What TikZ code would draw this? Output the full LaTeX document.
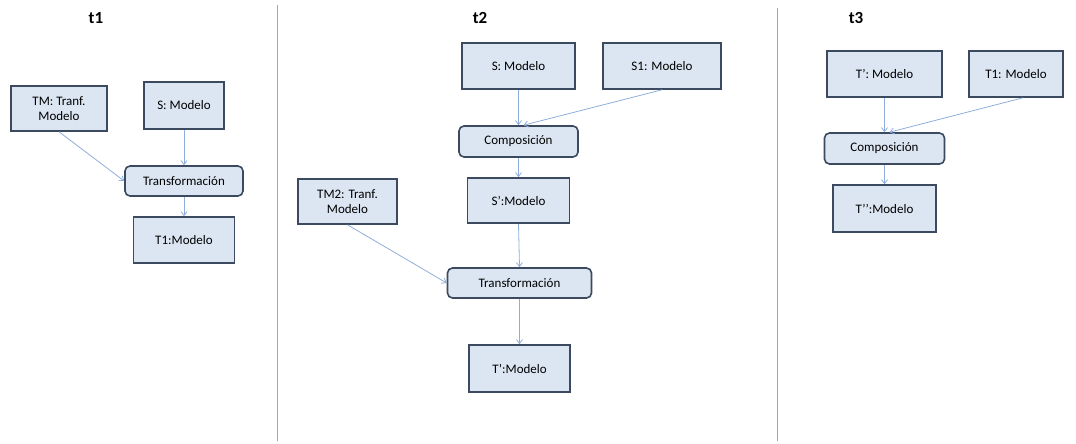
\documentclass[tikz,border=0pt]{standalone}
\usepackage{fontspec}
\setmainfont{Carlito}
\usetikzlibrary{arrows.meta}
\definecolor{boxfill}{HTML}{DCE6F2}
\definecolor{boxline}{HTML}{3B4A5E}
\definecolor{arrowcol}{HTML}{8EAEDB}
\definecolor{divider}{HTML}{A8A8A8}
\tikzset{
  model/.style={draw=boxline, fill=boxfill, line width=1.6pt, inner sep=0pt,
    align=center, font=\fontsize{13}{15}\selectfont},
  oper/.style={model, rounded corners=5pt},
  flow/.style={draw=arrowcol, line width=0.8pt, -{Straight Barb[length=4pt,width=6pt]}},
  title/.style={font=\fontsize{17}{19}\selectfont\bfseries},
  sep/.style={draw=divider, line width=0.8pt}
}
\begin{document}
\begin{tikzpicture}[x=1pt, y=-1pt]
\useasboundingbox (0,0) rectangle (1076,444);

% column separators
\coordinate (d1a) at (277,5);   \coordinate (d1b) at (277,441);
\coordinate (d2a) at (777,8);   \coordinate (d2b) at (777,441);
\draw[sep] (d1a) -- (d1b);
\draw[sep] (d2a) -- (d2b);

% titles
\node[title] (h1) at (96,18) {t1};
\node[title] (h2) at (480,18) {t2};
\node[title] (h3) at (856,18) {t3};

% ---- t1 ----
\node[model, minimum width=96pt, minimum height=45pt] (tm) at (59,108.5) {TM: Tranf.\\Modelo};
\node[model, minimum width=80pt, minimum height=47pt] (s) at (184,105.5) {S: Modelo};
\node[oper, minimum width=118pt, minimum height=30pt] (tr1) at (184,181) {Transformación};
\node[model, minimum width=101pt, minimum height=46pt] (t1) at (184,240) {T1:Modelo};
\draw[flow] (tm.south) -- (tr1.west);
\draw[flow] (s.south) -- (tr1.north);
\draw[flow] (tr1.south) -- (t1.north);

% ---- t2 ----
\node[model, minimum width=113pt, minimum height=46pt] (s2) at (518.5,66) {S: Modelo};
\node[model, minimum width=118pt, minimum height=46pt] (s1) at (662,66) {S1: Modelo};
\node[oper, minimum width=119pt, minimum height=31pt] (comp2) at (518.5,141.5) {Composición};
\node[model, minimum width=102pt, minimum height=45pt] (sp) at (518.5,200.5) {S’:Modelo};
\node[model, minimum width=99pt, minimum height=45pt] (tm2) at (347.5,201.5) {TM2: Tranf.\\Modelo};
\node[oper, minimum width=144pt, minimum height=30pt] (tr2) at (519.5,283) {Transformación};
\node[model, minimum width=101pt, minimum height=47pt] (tp) at (519.5,368.5) {T’:Modelo};
\draw[flow] (s2.south) -- (comp2.north);
\draw[flow] (s1.south) -- ([xshift=5pt]comp2.north);
\draw[flow] (comp2.south) -- (sp.north);
\draw[flow] (sp.south) -- (tr2.north);
\draw[flow] (tm2.south) -- (tr2.west);
\draw[flow] (tr2.south) -- (tp.north);

% ---- t3 ----
\node[model, minimum width=115pt, minimum height=46pt] (tq) at (884.5,74) {T’: Modelo};
\node[model, minimum width=94pt, minimum height=46pt] (t1b) at (1016,74) {T1: Modelo};
\node[oper, minimum width=120pt, minimum height=31pt] (comp3) at (884.5,148.5) {Composición};
\node[model, minimum width=103pt, minimum height=47pt] (tpp) at (884.5,208.5) {T’’:Modelo};
\draw[flow] (tq.south) -- (comp3.north);
\draw[flow] ([xshift=7pt]t1b.south) -- ([xshift=5pt]comp3.north);
\draw[flow] (comp3.south) -- (tpp.north);
\end{tikzpicture}
\end{document}
